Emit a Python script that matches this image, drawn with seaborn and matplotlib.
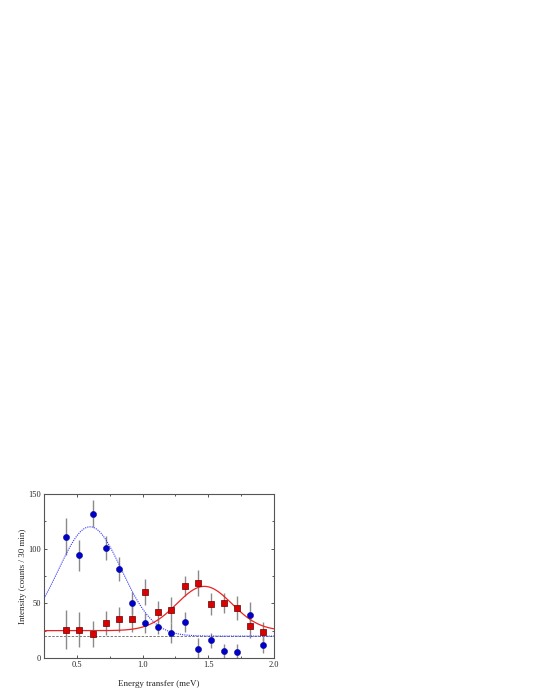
import numpy as np
import pandas as pd
import matplotlib
matplotlib.use("Agg")
import matplotlib.pyplot as plt
import seaborn as sns
from matplotlib.ticker import MultipleLocator

sns.set_style("ticks")
plt.rcParams['font.family'] = ['Liberation Serif', 'DejaVu Serif']

# Data
energy = [0.42, 0.52, 0.62, 0.72, 0.82, 0.92, 1.02, 1.12, 1.22, 1.32, 1.42, 1.52, 1.62, 1.72, 1.82, 1.92]
blue_int = [111, 94, 132, 101, 81, 50, 32, 28.5, 23, 33, 8.5, 16, 6, 5.5, 39, 12]
blue_err = [17, 14, 12.5, 11, 11, 10, 9, 7, 9, 9, 10, 7, 7, 7, 12, 7]
red_int = [26, 25.7, 22, 32, 35.5, 35.5, 60, 42.5, 44, 65.7, 68.7, 49.6, 50.5, 45.4, 29.4, 24.2]
red_err = [18, 16, 12, 11, 11.5, 12, 12, 10, 12, 9, 12, 10, 9, 11, 11, 9]

# Gaussian fit parameters (baseline, amplitude, centre, width)
blue_fit = dict(base=20.0, amp=100.0, cen=0.60, sig=0.24)
red_fit = dict(base=25.0, amp=40.5, cen=1.47, sig=0.21)
background = 20.0

xticks = [0.5, 1.0, 1.5, 2.0]
yticks = [0, 50, 100, 150]


def gauss(x, p):
    return p['base'] + p['amp'] * np.exp(-(x - p['cen']) ** 2 / (2 * p['sig'] ** 2))


xf = np.linspace(0.25, 2.0, 400)
fit_df = pd.DataFrame({
    'E': np.concatenate([xf, xf]),
    'I': np.concatenate([gauss(xf, blue_fit), gauss(xf, red_fit)]),
    'series': ['blue'] * len(xf) + ['red'] * len(xf),
})
pts = pd.DataFrame({'E': energy, 'blue': blue_int, 'red': red_int,
                    'berr': blue_err, 'rerr': red_err})

fig = plt.figure(figsize=(5.4, 6.99), dpi=100)
ax = fig.add_axes([0.0815, 0.0587, 0.4259, 0.2346])

ax.axhline(background, color='#777777', lw=0.7, ls=(0, (2.5, 1.5)), zorder=1)

ax.errorbar(pts['E'], pts['blue'], yerr=pts['berr'], fmt='none',
            ecolor='#8a8a8a', elinewidth=1.0, capsize=0, zorder=2)
ax.errorbar(pts['E'], pts['red'], yerr=pts['rerr'], fmt='none',
            ecolor='#8a8a8a', elinewidth=1.0, capsize=0, zorder=2)

sns.lineplot(data=fit_df[fit_df.series == 'blue'], x='E', y='I', ax=ax,
             color='#3333ff', lw=0.8, linestyle=(0, (1, 1)), zorder=3)
sns.lineplot(data=fit_df[fit_df.series == 'red'], x='E', y='I', ax=ax,
             color='#ee2222', lw=0.9, zorder=3)

sns.scatterplot(data=pts, x='E', y='red', ax=ax, marker='s', s=15,
                color='#dd0000', edgecolor='#660000', linewidth=0.5, zorder=4)
sns.scatterplot(data=pts, x='E', y='blue', ax=ax, marker='o', s=20,
                color='#0000cc', edgecolor='#000066', linewidth=0.3, zorder=5)

ax.set_xlim(0.25, 2.0)
ax.set_ylim(0, 150)
ax.set_xticks(xticks)
ax.set_xticklabels(['0.5', '1.0', '1.5', '2.0'])
ax.set_yticks(yticks)
ax.set_yticklabels([str(t) for t in yticks])
ax.xaxis.set_minor_locator(MultipleLocator(0.25))
ax.yaxis.set_minor_locator(MultipleLocator(25))
ax.tick_params(which='both', direction='in', top=True, right=True,
               color='#555555', width=0.7, labelsize=6, pad=2)
ax.tick_params(which='major', length=2.5)
ax.tick_params(which='minor', length=1.5)
for s in ax.spines.values():
    s.set_color('#555555')
    s.set_linewidth(0.8)

ax.set_xlabel('Energy transfer (meV)', fontsize=6.5, labelpad=8)
ax.set_ylabel('Intensity (counts / 30 min)', fontsize=6.5, labelpad=1)

fig.savefig('out.png', dpi=100)
